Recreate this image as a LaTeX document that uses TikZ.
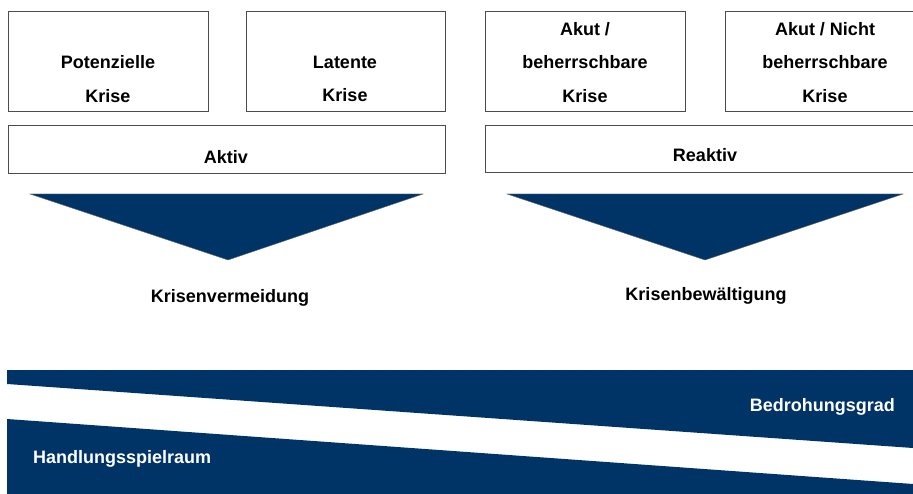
\documentclass[tikz,border=0pt]{standalone}
\usepackage{fontspec}
\setmainfont{Liberation Sans}
\definecolor{navy}{RGB}{0,51,102}
\begin{document}
\begin{tikzpicture}[x=1pt,y=-1pt,
  box/.style={draw=black!70, line width=0.8pt, fill=white, inner sep=0pt, anchor=north west},
  txt/.style={font=\bfseries\fontsize{18}{33.5}\selectfont, align=center, inner sep=0pt},
  band/.style={fill=navy},
  arrowtri/.style={fill=navy, draw=black!60, line width=0.4pt}]
\useasboundingbox (0,0) rectangle (913,494);
% top boxes
\node[box, minimum width=200pt, minimum height=100pt] (b1) at (8,11) {};
\node[box, minimum width=199pt, minimum height=100pt] (b2) at (246,11) {};
\node[box, minimum width=200pt, minimum height=100pt] (b3) at (485,11) {};
\node[box, minimum width=200pt, minimum height=100pt] (b4) at (725,11) {};
\node[txt] (t1) at (108,79) {Potenzielle\\Krise};
\node[txt] (t2) at (345,79) {Latente\\Krise};
\node[txt] (t3) at (585,62.5) {Akut /\\beherrschbare\\Krise};
\node[txt] (t4) at (825,62.5) {Akut / Nicht\\beherrschbare\\Krise};
% category boxes
\node[box, minimum width=437pt, minimum height=48pt] (aktiv) at (8,125) {};
\node[box, minimum width=440pt, minimum height=47pt] (reaktiv) at (485,125) {};
\node[txt] (ta) at (226,157) {Aktiv};
\node[txt] (tr) at (705,155) {Reaktiv};
% triangles
\filldraw[arrowtri] (30,194) -- (423,194) -- (228,260) -- cycle;
\filldraw[arrowtri] (507,194) -- (903,194) -- (705,260) -- cycle;
\node[txt] (kv) at (230,298) {Krisenvermeidung};
\node[txt] (kb) at (706,296) {Krisenbewältigung};
% bands
\fill[band] (7,370) -- (913,370) -- (913,448) -- (7,384) -- cycle;
\fill[band] (7,419) -- (913,484) -- (913,494) -- (7,494) -- cycle;
\node[txt, text=white, anchor=east] (bg) at (895,407) {Bedrohungsgrad};
\node[txt, text=white, anchor=west] (hs) at (33,459) {Handlungsspielraum};
\end{tikzpicture}
\end{document}
